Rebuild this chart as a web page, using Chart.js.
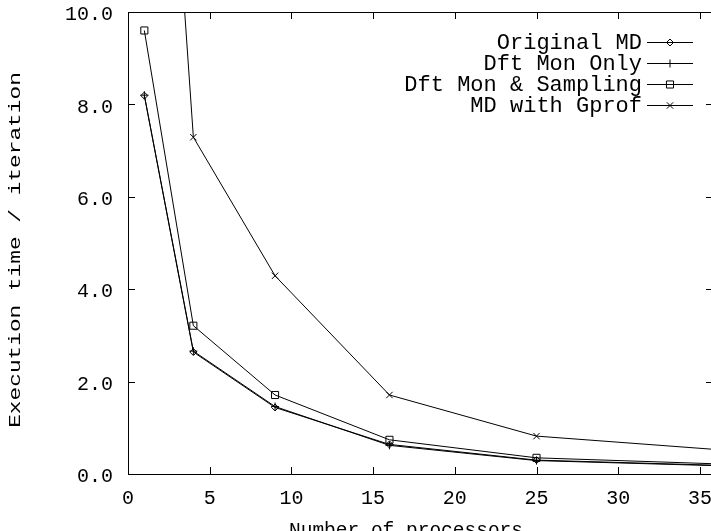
<!DOCTYPE html>
<html>
<head>
<meta charset="utf-8">
<script src="https://cdn.jsdelivr.net/npm/chart.js@4.4.0/dist/chart.umd.min.js"></script>
<style>
  html, body { margin: 0; padding: 0; background: #fff; }
  #wrap { width: 711px; height: 531px; overflow: hidden; }
  canvas { display: block; }
</style>
</head>
<body>
<div id="wrap"><canvas id="chart" width="720" height="531"></canvas></div>
<script>
  // processor counts (square grids)
  const processors = [1, 4, 9, 16, 25, 36];

  const originalMD = [8.19, 2.64, 1.44, 0.64, 0.30, 0.19];
  const dftMonOnly = [8.20, 2.66, 1.46, 0.62, 0.29, 0.18];
  const dftMonSampling = [9.60, 3.21, 1.71, 0.74, 0.35, 0.22];
  const mdWithGprof = [22.6, 7.29, 4.29, 1.71, 0.82, 0.53];

  const xTickValues = [0, 5, 10, 15, 20, 25, 30, 35];
  const yTickValues = [0, 2, 4, 6, 8, 10];

  const seriesNames = ['Original MD', 'Dft Mon Only', 'Dft Mon & Sampling', 'MD with Gprof'];
  const pointStyles = ['rectRot', 'cross', 'rect', 'crossRot'];
  const pointSizes = [3.5, 4, 5, 4.5];

  const xTitle = 'Number of processors';
  const yTitle = 'Execution time / iteration';
  const mono = "'Liberation Mono', 'DejaVu Sans Mono', monospace";

  function toXY(values) {
    return values.map((v, i) => ({ x: processors[i], y: v }));
  }

  const allSeries = [originalMD, dftMonOnly, dftMonSampling, mdWithGprof];
  const datasets = allSeries.map((vals, i) => ({
    label: seriesNames[i],
    data: toXY(vals),
    borderColor: '#000',
    borderWidth: 1,
    pointStyle: pointStyles[i],
    pointRadius: pointSizes[i],
    pointBorderColor: '#000',
    pointBorderWidth: 1,
    pointBackgroundColor: 'rgba(0,0,0,0)',
    tension: 0
  }));

  // gnuplot-like frame, mirrored inward ticks, legend and axis titles
  const gnuplotDecor = {
    id: 'gnuplotDecor',
    afterDraw(chart) {
      const ctx = chart.ctx;
      const a = chart.chartArea;
      const xs = chart.scales.x, ys = chart.scales.y;
      const tl = 7;
      ctx.save();
      ctx.strokeStyle = '#000';
      ctx.lineWidth = 1;
      ctx.strokeRect(Math.round(a.left) + 0.5, Math.round(a.top) + 0.5,
        Math.round(a.right - a.left), Math.round(a.bottom - a.top));
      ctx.beginPath();
      xs.ticks.forEach(t => {
        const px = Math.round(xs.getPixelForValue(t.value)) + 0.5;
        ctx.moveTo(px, a.bottom); ctx.lineTo(px, a.bottom - tl);
        ctx.moveTo(px, a.top); ctx.lineTo(px, a.top + tl);
      });
      ys.ticks.forEach(t => {
        const py = Math.round(ys.getPixelForValue(t.value)) + 0.5;
        ctx.moveTo(a.left, py); ctx.lineTo(a.left + tl, py);
        ctx.moveTo(a.right, py); ctx.lineTo(a.right - tl, py);
      });
      ctx.stroke();

      // legend
      ctx.font = '22px ' + mono;
      ctx.textAlign = 'right';
      ctx.textBaseline = 'middle';
      const rowY = [42, 63, 84, 105];
      seriesNames.forEach((name, i) => {
        const y = rowY[i];
        ctx.fillStyle = '#000';
        ctx.fillText(name, 642, y + 1);
        ctx.beginPath();
        ctx.moveTo(647, y + 0.5); ctx.lineTo(693, y + 0.5);
        ctx.stroke();
        ctx.fillStyle = 'rgba(0,0,0,0)';
        Chart.helpers.drawPoint(ctx, {
          pointStyle: pointStyles[i], radius: pointSizes[i], borderWidth: 1
        }, 670, y + 0.5);
      });

      // axis titles
      ctx.fillStyle = '#000';
      ctx.textAlign = 'center';
      ctx.textBaseline = 'alphabetic';
      ctx.font = '19.5px ' + mono;
      ctx.fillText(xTitle, a.left + 278, 536);
      ctx.translate(19.5, 250);
      ctx.rotate(-Math.PI / 2);
      ctx.scale(1, 0.72);
      ctx.font = '22.8px ' + mono;
      ctx.fillText(yTitle, 0, 0);
      ctx.restore();
    }
  };

  new Chart(document.getElementById('chart'), {
    type: 'line',
    data: { datasets },
    options: {
      responsive: false,
      animation: false,
      devicePixelRatio: 1,
      layout: { padding: { left: 0, top: 12, right: 7, bottom: 0 } },
      plugins: {
        legend: { display: false },
        tooltip: { enabled: false }
      },
      scales: {
        x: {
          type: 'linear',
          min: 0,
          max: 35.8,
          grid: { display: false, drawTicks: false },
          border: { display: false },
          afterBuildTicks: s => { s.ticks = xTickValues.map(v => ({ value: v })); },
          afterFit: s => { s.height = 57; s.paddingLeft = 0; s.paddingRight = 0; },
          ticks: {
            padding: 13,
            maxRotation: 0,
            autoSkip: false,
            color: '#000',
            font: { family: mono, size: 20 }
          }
        },
        y: {
          min: 0,
          max: 10,
          grid: { display: false, drawTicks: false },
          border: { display: false },
          afterBuildTicks: s => { s.ticks = yTickValues.map(v => ({ value: v })); },
          afterFit: s => { s.width = 128; s.paddingTop = 0; s.paddingBottom = 0; },
          ticks: {
            padding: 15,
            labelOffset: 3,
            autoSkip: false,
            color: '#000',
            font: { family: mono, size: 20 },
            callback: v => v.toFixed(1)
          }
        }
      }
    },
    plugins: [gnuplotDecor]
  });
</script>
</body>
</html>
